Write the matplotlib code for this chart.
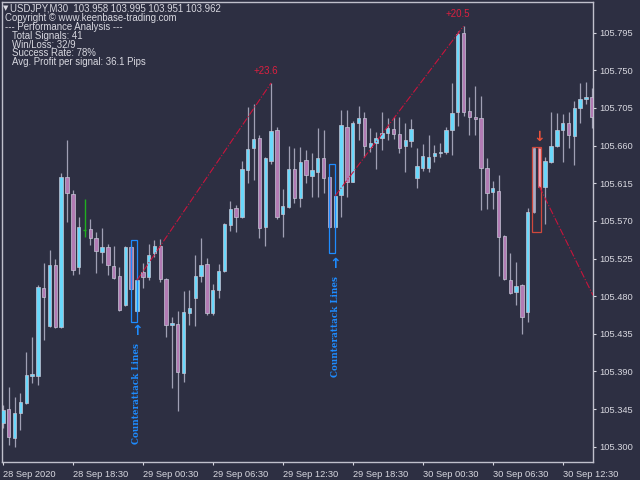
import numpy as np
import matplotlib
matplotlib.use('Agg')
from matplotlib import pyplot as plt
from matplotlib.patches import Rectangle

# USDJPY M30 candles
opens = [105.328, 105.345, 105.310, 105.340, 105.352, 105.385, 105.385, 105.490, 105.444, 105.517,
         105.443, 105.623, 105.602, 105.515, 105.559, 105.560, 105.550, 105.533, 105.539, 105.516,
         105.504, 105.469, 105.539, 105.462, 105.509, 105.503, 105.532, 105.540, 105.500, 105.446,
         105.447, 105.388, 105.460, 105.478, 105.504, 105.518, 105.460, 105.487, 105.510, 105.565,
         105.585, 105.575, 105.631, 105.657, 105.669, 105.563, 105.642, 105.679, 105.578, 105.587,
         105.632, 105.597, 105.643, 105.624, 105.628, 105.645, 105.623, 105.563, 105.601, 105.682,
         105.617, 105.687, 105.693, 105.658, 105.663, 105.669, 105.675, 105.680, 105.674, 105.660,
         105.666, 105.621, 105.633, 105.633, 105.648, 105.651, 105.652, 105.679, 105.700, 105.795,
         105.701, 105.694, 105.693, 105.633, 105.605, 105.606, 105.552, 105.499, 105.485, 105.493,
         105.461, 105.581, 105.657, 105.611, 105.640, 105.660, 105.679, 105.687, 105.672, 105.705,
         105.716, 105.718]
highs = [105.350, 105.371, 105.359, 105.364, 105.413, 105.431, 105.493, 105.520, 105.535, 105.524,
         105.627, 105.667, 105.607, 105.575, 105.596, 105.572, 105.557, 105.562, 105.542, 105.540,
         105.515, 105.540, 105.541, 105.502, 105.520, 105.542, 105.547, 105.548, 105.502, 105.455,
         105.462, 105.486, 105.487, 105.529, 105.550, 105.526, 105.495, 105.518, 105.568, 105.594,
         105.589, 105.642, 105.706, 105.710, 105.673, 105.646, 105.735, 105.682, 105.608, 105.660,
         105.657, 105.658, 105.655, 105.651, 105.681, 105.679, 105.624, 105.601, 105.703, 105.703,
         105.689, 105.707, 105.700, 105.681, 105.676, 105.700, 105.693, 105.694, 105.694, 105.687,
         105.692, 105.657, 105.662, 105.673, 105.661, 105.663, 105.682, 105.735, 105.797, 105.803,
         105.718, 105.731, 105.719, 105.645, 105.618, 105.625, 105.553, 105.532, 105.521, 105.494,
         105.585, 105.658, 105.658, 105.646, 105.700, 105.699, 105.698, 105.700, 105.713, 105.735,
         105.736, 105.729]
lows = [105.322, 105.302, 105.300, 105.320, 105.351, 105.376, 105.374, 105.428, 105.443, 105.442,
        105.442, 105.569, 105.505, 105.507, 105.551, 105.541, 105.508, 105.520, 105.505, 105.500,
        105.462, 105.468, 105.487, 105.461, 105.490, 105.499, 105.527, 105.497, 105.431, 105.370,
        105.343, 105.377, 105.446, 105.444, 105.497, 105.457, 105.457, 105.478, 105.509, 105.558,
        105.557, 105.573, 105.615, 105.619, 105.550, 105.540, 105.638, 105.572, 105.551, 105.586,
        105.591, 105.587, 105.615, 105.599, 105.599, 105.603, 105.562, 105.562, 105.575, 105.599,
        105.616, 105.667, 105.646, 105.652, 105.632, 105.655, 105.667, 105.668, 105.651, 105.628,
        105.658, 105.609, 105.630, 105.628, 105.640, 105.646, 105.650, 105.649, 105.683, 105.695,
        105.673, 105.673, 105.583, 105.584, 105.584, 105.504, 105.499, 105.483, 105.469, 105.435,
        105.449, 105.580, 105.610, 105.566, 105.639, 105.658, 105.640, 105.657, 105.637, 105.687,
        105.710, 105.681]
closes = [105.344, 105.312, 105.340, 105.353, 105.386, 105.387, 105.491, 105.479, 105.517, 105.443,
          105.623, 105.603, 105.511, 105.563, 105.559, 105.550, 105.534, 105.539, 105.517, 105.502,
          105.463, 105.539, 105.489, 105.499, 105.503, 105.529, 105.540, 105.500, 105.446, 105.448,
          105.389, 105.461, 105.466, 105.504, 105.517, 105.460, 105.487, 105.510, 105.566, 105.584,
          105.575, 105.632, 105.656, 105.668, 105.562, 105.645, 105.678, 105.575, 105.588, 105.632,
          105.597, 105.640, 105.625, 105.631, 105.645, 105.621, 105.563, 105.600, 105.685, 105.617,
          105.687, 105.693, 105.660, 105.663, 105.669, 105.675, 105.681, 105.674, 105.657, 105.667,
          105.680, 105.636, 105.648, 105.646, 105.651, 105.652, 105.679, 105.699, 105.793, 105.700,
          105.694, 105.692, 105.633, 105.603, 105.609, 105.551, 105.500, 105.484, 105.492, 105.455,
          105.581, 105.657, 105.611, 105.642, 105.660, 105.679, 105.687, 105.673, 105.705, 105.716,
          105.718, 105.694]

doji_bar = 14          # drawn in line colour (green)
signal_bull_bar = 91   # greyed candle of the sell signal
signal_bear_bar = 92   # red candle of the sell signal

yticks = [105.795, 105.750, 105.705, 105.660, 105.615, 105.570, 105.525,
          105.480, 105.435, 105.390, 105.345, 105.300]
xtick_bars = [0, 12, 24, 36, 48, 60, 72, 84, 96]
xtick_labels = ['28 Sep 2020', '28 Sep 18:30', '29 Sep 00:30', '29 Sep 06:30', '29 Sep 12:30',
                '29 Sep 18:30', '30 Sep 00:30', '30 Sep 06:30', '30 Sep 12:30']

# counterattack boxes: (bar_from, bar_to, top, bottom)
blue_boxes = [(22, 23, 105.547, 105.449), (56, 57, 105.638, 105.532)]
red_box = (90.8, 92.2, 105.658, 105.557)
# profit lines: (bar0, price0, bar1, price1), labels
profit_lines = [(23, 105.499, 46, 105.735), (57, 105.600, 79, 105.803), (92, 105.611, 101.2, 105.481)]
profit_labels = [('+23.6', 45.1, 105.749), ('+20.5', 78.0, 105.817)]

header = ['Copyright \u00a9 www.keenbase-trading.com', '--- Performance Analysis ---']
stats = ['Total Signals: 41', 'Win/Loss: 32/9', 'Success Rate: 78%', 'Avg. Profit per signal: 36.1 Pips']

bg = '#2d2f42'
fg = '#d8d8e0'
bull_c = '#6ad8fb'
bear_c = '#b27bb4'
edge_c = '#c6c6d6'
wick_c = '#a0a0b4'
blue_c = '#1e8cff'
red_c = '#c8143c'

plt.rcParams['font.family'] = ['Liberation Sans', 'DejaVu Sans']

fig = plt.figure(figsize=(6.4, 4.8), dpi=100, facecolor=bg)
ax = fig.add_axes([1.7/640, 18/480, 591.3/640, 460.3/480], facecolor=bg)

w = 0.58
for i in range(len(opens)):
    o, h, l, c = opens[i], highs[i], lows[i], closes[i]
    if i == doji_bar:
        ax.vlines(i, l, h, color='#20b020', lw=1.0, zorder=2)
        ax.hlines(o, i - 0.3, i + 0.3, color='#20b020', lw=1.0, zorder=2)
        continue
    ax.vlines(i, l, h, color=wick_c, lw=0.9, zorder=2)
    if i == signal_bull_bar:
        fc, ec = '#a9acc4', '#a9acc4'
    elif i == signal_bear_bar:
        fc, ec = '#e8a8b8', '#e0505a'
    elif c >= o:
        fc, ec = bull_c, edge_c
    else:
        fc, ec = bear_c, edge_c
    lo = min(o, c)
    ht = max(abs(c - o), 0.0012)
    ax.add_patch(Rectangle((i - w/2, lo), w, ht, facecolor=fc, edgecolor=ec, lw=0.5, zorder=3))

for b0, b1, top, bot in blue_boxes:
    ax.add_patch(Rectangle((b0, bot), b1 - b0, top - bot, fill=False, edgecolor=blue_c, lw=0.9, zorder=4))
b0, b1, top, bot = red_box
ax.add_patch(Rectangle((b0, bot), b1 - b0, top - bot, fill=False, edgecolor='#d0483c', lw=0.9, zorder=4))

for x0, y0, x1, y1 in profit_lines:
    ax.plot([x0, x1], [y0, y1], color=red_c, lw=0.8, ls='-.', zorder=5)
for txt, x, y in profit_labels:
    ax.text(x, y, txt, color='#dc2040', fontsize=7, ha='center', va='center')

# counterattack markers
for bar, ya, yt in [(23, 105.438, 105.364), (57, 105.518, 105.444)]:
    ax.text(bar, ya, '\u2191', color=blue_c, fontsize=10, fontweight='bold', ha='center', va='center',
            family='DejaVu Sans')
    ax.text(bar, yt, 'Counterattack Lines', color=blue_c, fontsize=6.3, fontweight='bold',
            family='DejaVu Serif', rotation=90, ha='center', va='center')
ax.text(92, 105.670, '\u2193', color='#e8503a', fontsize=10, fontweight='bold', ha='center', va='center',
        family='DejaVu Sans')

ax.set_xlim(-0.2, 101.2)
ax.set_ylim(105.2817, 105.8321)
ax.yaxis.tick_right()
ax.set_yticks(yticks)
ax.set_yticklabels(['%.3f' % v for v in yticks])
ax.set_xticks(xtick_bars)
ax.set_xticklabels(xtick_labels, ha='left')
ax.tick_params(colors=fg, labelsize=6.7, length=2.5, width=0.8, direction='out', pad=2)
ax.tick_params(axis='x', pad=3)
for s in ax.spines.values():
    s.set_color('#c0c0cc')
    s.set_linewidth(1.0)

fig.text(3/640, 1 - 8.5/480, '\u25bc', color=fg, fontsize=5, va='center', family='DejaVu Sans')
fig.text(10/640, 1 - 8.5/480, 'USDJPY,M30  103.958 103.995 103.951 103.962', color=fg, fontsize=6.9, va='center')
for k, line in enumerate(header):
    fig.text(5/640, 1 - (18 + 9*k)/480, line, color=fg, fontsize=6.9, va='center')
for k, line in enumerate(stats):
    fig.text(12/640, 1 - (36 + 8.7*k)/480, line, color=fg, fontsize=6.9, va='center')

fig.savefig('out.png', dpi=100, facecolor=bg)
